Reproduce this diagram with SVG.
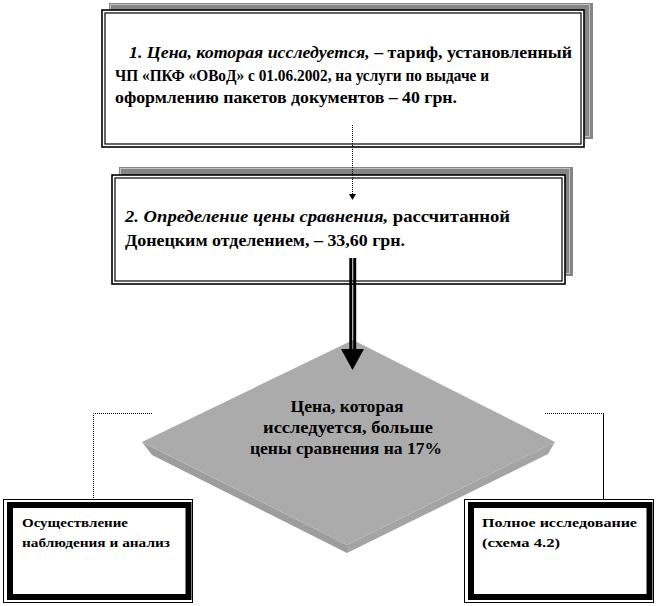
<svg xmlns="http://www.w3.org/2000/svg" width="658" height="606" viewBox="0 0 658 606">
<defs>
<style>
.shadow{fill:#858585;stroke:none}
.shdots{fill:none;stroke:#fff;stroke-width:1;stroke-dasharray:1 1}
.frame{fill:#fff;stroke:#000;stroke-width:1.6}
.inner{fill:none;stroke:#000;stroke-width:1.2}
.t{font-family:"Liberation Serif","Times New Roman",serif;font-weight:bold;fill:#000}
.bi{font-style:italic}
.dot{fill:none;stroke:#000;stroke-width:1;stroke-dasharray:1 1}
.thin{fill:none;stroke:#000;stroke-width:1}
.thick{fill:none;stroke:#000;stroke-width:6}
</style>
</defs>
<rect width="658" height="606" fill="#fff"/>

<g id="node-box1">
<rect class="shadow" x="109" y="3" width="484" height="136"/>
<rect class="shdots" x="110.5" y="4.5" width="479" height="132"/>
<rect class="frame" x="102" y="10" width="482" height="137"/>
<rect class="inner" x="105" y="13" width="476" height="131"/>
<text class="t" x="129" y="58" font-size="17" textLength="443" lengthAdjust="spacingAndGlyphs"><tspan class="bi">1.  Цена, которая исследуется,</tspan> – тариф, установленный</text>
<text class="t" x="115" y="81" font-size="17" textLength="374" lengthAdjust="spacingAndGlyphs">ЧП «ПКФ «ОВоД» с 01.06.2002,  на услуги по выдаче и</text>
<text class="t" x="115" y="103" font-size="17" textLength="342" lengthAdjust="spacingAndGlyphs">оформлению пакетов документов – 40 грн.</text>
</g>

<g id="node-box2">
<rect class="shadow" x="119" y="167" width="454" height="109"/>
<rect class="shdots" x="120.5" y="168.5" width="449" height="105"/>
<rect class="frame" x="112" y="175" width="453" height="109"/>
<rect class="inner" x="115" y="178" width="447" height="103"/>
<text class="t" x="125" y="222" font-size="17" textLength="385" lengthAdjust="spacingAndGlyphs"><tspan class="bi">2. Определение цены сравнения,</tspan> рассчитанной</text>
<text class="t" x="125" y="246" font-size="17" textLength="280" lengthAdjust="spacingAndGlyphs">Донецким отделением, – 33,60 грн.</text>
</g>

<g id="node-decision">
<polygon points="142,442 347,545 347,553 152,455" fill="#9d9d9d"/>
<polygon points="555,442 347,545 347,553 548,454" fill="#a4a4a4"/>
<polygon points="353,340 555,442 347,545 142,442" fill="#ababab"/>
<text class="t" x="347" y="412" font-size="16" text-anchor="middle" textLength="113" lengthAdjust="spacingAndGlyphs">Цена, которая</text>
<text class="t" x="348" y="433" font-size="16" text-anchor="middle" textLength="170" lengthAdjust="spacingAndGlyphs">исследуется, больше</text>
<text class="t" x="346" y="454" font-size="16" text-anchor="middle" textLength="192" lengthAdjust="spacingAndGlyphs">цены сравнения на 17%</text>
</g>

<g id="node-left">
<rect class="thin" x="3.5" y="499.5" width="189" height="103"/>
<rect class="thick" x="10" y="505" width="178.5" height="92"/>
<text class="t" x="22" y="527" font-size="13" textLength="106" lengthAdjust="spacingAndGlyphs">Осуществление</text>
<text class="t" x="22" y="547" font-size="13" textLength="148" lengthAdjust="spacingAndGlyphs">наблюдения и анализ</text>
</g>

<g id="node-right">
<rect class="thin" x="464.5" y="499.5" width="189" height="103"/>
<rect class="thick" x="471" y="505" width="178.5" height="92"/>
<text class="t" x="482" y="527" font-size="13" textLength="155" lengthAdjust="spacingAndGlyphs">Полное  исследование</text>
<text class="t" x="482" y="547" font-size="13" textLength="78" lengthAdjust="spacingAndGlyphs">(схема 4.2)</text>
</g>

<g id="connectors">
<line class="dot" x1="352.5" y1="125" x2="352.5" y2="195"/>
<polygon points="349,194 356,194 352.5,200" fill="#000"/>
<line x1="350.8" y1="258" x2="350.8" y2="350" stroke="#000" stroke-width="3"/>
<line x1="354.7" y1="258" x2="354.7" y2="350" stroke="#000" stroke-width="3"/>
<polygon points="341,349 364,349 352.5,370" fill="#000"/>
<polyline class="dot" points="152,413.5 93.5,413.5 93.5,499"/>
<line class="dot" x1="545" y1="413.5" x2="603" y2="413.5"/>
<line class="thin" x1="603.5" y1="413" x2="603.5" y2="499"/>
</g>
</svg>
